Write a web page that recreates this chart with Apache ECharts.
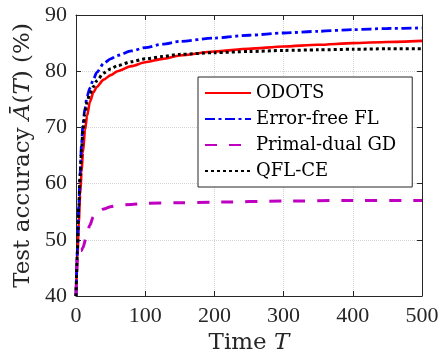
<!DOCTYPE html>
<html>
<head>
<meta charset="utf-8">
<script src="https://cdn.jsdelivr.net/npm/echarts@6/dist/echarts.min.js"></script>
<style>html,body{margin:0;padding:0;background:#fff}#c{width:443px;height:360px}</style>
</head>
<body>
<div id="c"></div>
<script>
var seriesNames = ['ODOTS', 'Error-free FL', 'Primal-dual GD', 'QFL-CE'];
var timeSteps = [0, 2, 4, 6, 8, 10, 13, 16, 20, 25, 30, 40, 50, 60, 80, 100, 125, 150, 200, 250, 300, 350, 400, 450, 500];
var odots     = [40, 47, 53, 58, 62, 65.5, 69.5, 72, 74.5, 76.2, 77.2, 78.5, 79.3, 80, 80.9, 81.6, 82.2, 82.8, 83.5, 84, 84.4, 84.7, 85, 85.2, 85.4];
var errorFree = [40, 48, 56, 62, 67, 70.5, 73.5, 75.5, 77, 78.5, 79.8, 81.4, 82.2, 82.8, 83.6, 84.2, 84.8, 85.3, 85.9, 86.4, 86.8, 87.1, 87.4, 87.6, 87.7];
var qflce     = [40, 48, 56, 61.5, 66, 69.5, 72.5, 74.5, 76, 77.2, 78.3, 79.7, 80.4, 81, 81.7, 82.2, 82.6, 83, 83.3, 83.5, 83.7, 83.8, 83.9, 84, 84];
var pdTime    = [0, 1, 2, 5, 8, 10, 15, 20, 25, 30, 35, 40, 50, 60, 80, 100, 150, 200, 300, 400, 500];
var primalDual= [40, 44, 47.8, 48.1, 48.1, 48.6, 50.6, 52.6, 54.1, 54.8, 55.2, 55.5, 55.9, 56.1, 56.3, 56.5, 56.6, 56.7, 56.9, 57, 57];
var xTicks = [0, 100, 200, 300, 400, 500];
var yTicks = [40, 50, 60, 70, 80, 90];

function pairs(xs, ys) { return xs.map(function (x, i) { return [x, ys[i]]; }); }

var FONT = 'Liberation Serif';
var FONT2 = 'DejaVu Serif';
var TXT = '#262626';
var chart = echarts.init(document.getElementById('c'), null, { renderer: 'canvas' });

function mkLine(name, xs, ys, color, width, type) {
  return {
    name: name, type: 'line', xAxisIndex: 0, yAxisIndex: 0,
    data: pairs(xs, ys), showSymbol: false, symbol: 'none',
    smooth: 0.25, smoothMonotone: 'x',
    lineStyle: { color: color, width: width, type: type, cap: 'butt' },
    itemStyle: { color: color },
    animation: false
  };
}

var nameRich = {
  n: { fontFamily: FONT2, fontSize: 23, color: TXT },
  i: { fontFamily: FONT2, fontSize: 23, fontStyle: 'italic', color: TXT }
};

var option = {
  animation: false,
  backgroundColor: '#fff',
  grid: { left: 76, right: 21, top: 15, bottom: 62.5, containLabel: false },
  xAxis: [{
    type: 'value', min: xTicks[0], max: xTicks[xTicks.length - 1], interval: 100, position: 'bottom',
    name: '{n|Time }{i|T}', nameLocation: 'middle', nameGap: 36,
    nameTextStyle: { rich: nameRich },
    axisLine: { show: true, onZero: false, lineStyle: { color: TXT, width: 1 } },
    axisTick: { show: true, inside: true, length: 5, lineStyle: { color: TXT } },
    axisLabel: { fontFamily: FONT, fontSize: 22, color: TXT, margin: 9 },
    splitLine: { show: true, lineStyle: { type: 'dotted', color: '#d4d4d4', width: 1 } }
  }, {
    type: 'value', min: 0, max: 500, interval: 100, position: 'top',
    axisLine: { show: true, onZero: false, lineStyle: { color: TXT, width: 1 } },
    axisTick: { show: true, inside: true, length: 5, lineStyle: { color: TXT } },
    axisLabel: { show: false }, splitLine: { show: false }
  }],
  yAxis: [{
    type: 'value', min: yTicks[0], max: yTicks[yTicks.length - 1], interval: 10, position: 'left',
    name: '{n|Test accuracy }{i|Ā}{n|(}{i|T}{n|) (%)}', nameLocation: 'middle', nameGap: 40, nameRotate: 90,
    nameTextStyle: { rich: nameRich },
    axisLine: { show: true, onZero: false, lineStyle: { color: TXT, width: 1 } },
    axisTick: { show: true, inside: true, length: 5, lineStyle: { color: TXT } },
    axisLabel: { fontFamily: FONT, fontSize: 22, color: TXT, margin: 9 },
    splitLine: { show: true, lineStyle: { type: 'dotted', color: '#d4d4d4', width: 1 } }
  }, {
    type: 'value', min: 40, max: 90, interval: 10, position: 'right',
    axisLine: { show: true, onZero: false, lineStyle: { color: TXT, width: 1 } },
    axisTick: { show: true, inside: true, length: 5, lineStyle: { color: TXT } },
    axisLabel: { show: false }, splitLine: { show: false }
  }],
  legend: {
    orient: 'vertical', left: 198, top: 77,
    data: seriesNames,
    itemWidth: 46, itemHeight: 10, itemGap: 6,
    padding: [6, 16, 6, 6],
    backgroundColor: '#fff', borderColor: TXT, borderWidth: 1, borderRadius: 0,
    itemStyle: { color: 'rgba(0,0,0,0)', borderWidth: 0, opacity: 0 },
    textStyle: { fontFamily: FONT2, fontSize: 18, color: '#000', lineHeight: 20 }
  },
  series: [
    mkLine(seriesNames[0], timeSteps, odots, '#ff0000', 2.6, 'solid'),
    mkLine(seriesNames[1], timeSteps, errorFree, '#0000ff', 2.8, [10, 3.5, 3, 3.5]),
    mkLine(seriesNames[2], pdTime, primalDual, '#c000c0', 3, [12, 12]),
    mkLine(seriesNames[3], timeSteps, qflce, '#000000', 3, [3, 3])
  ]
};
chart.setOption(option);
</script>
</body>
</html>
